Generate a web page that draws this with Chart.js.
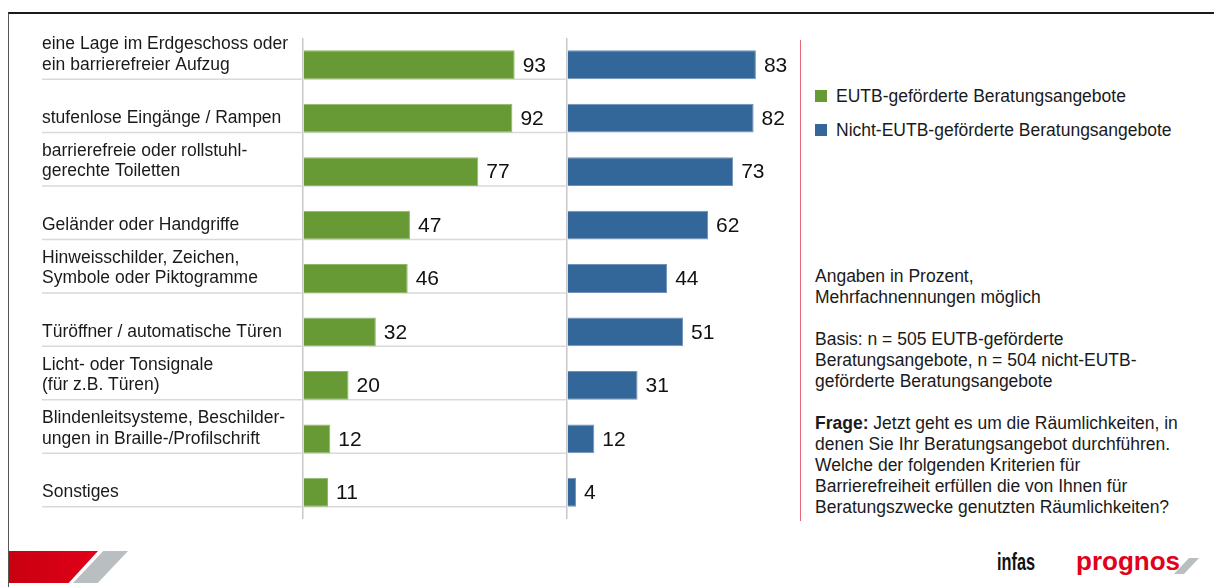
<!DOCTYPE html>
<html lang="de">
<head>
<meta charset="utf-8">
<title>Kriterien für Barrierefreiheit der Räumlichkeiten</title>
<script src="https://cdn.jsdelivr.net/npm/chart.js@4.4.1/dist/chart.umd.min.js"></script>
<style>
  html, body { margin: 0; padding: 0; background: #fff; }
  body { width: 1214px; height: 587px; position: relative; overflow: hidden;
         font-family: "Liberation Sans", Arial, sans-serif; color: #1a1a1a; }
  #frame { position: absolute; left: 8px; top: 12px; right: 0; bottom: 0;
           border-top: 2px solid #1a1a1a; border-left: 1px solid #555; }
  #wrap { position: absolute; left: 0; top: 0; width: 800px; height: 587px; }
  #divider { position: absolute; left: 800px; top: 40px; width: 1px; height: 481px; background: #e8677c; }
  #legend { position: absolute; left: 815px; top: 79px; font-size: 17.5px; }
  #legend .item { display: flex; align-items: center; height: 34px; }
  #legend .swatch { width: 12px; height: 12px; margin-right: 9px; }
  #notes { position: absolute; left: 815px; top: 266px; font-size: 17.5px; line-height: 21px; }
  #notes p { margin: 0 0 21px 0; }
  .logo-red { position: absolute; left: 9px; top: 551px; width: 89px; height: 32px;
              background: linear-gradient(90deg, #c8000f, #e2001a);
              clip-path: polygon(0 0, 100% 0, 67% 100%, 0 100%); }
  .logo-grey { position: absolute; left: 73px; top: 551px; width: 55px; height: 32px; background: #b9bec1;
               clip-path: polygon(55% 0, 100% 0, 45% 100%, 0 100%); }
  .infas { position: absolute; left: 997px; top: 548px; font: bold 24px "Liberation Sans", Arial, sans-serif;
           color: #111; transform: scaleX(0.68); transform-origin: left top; }
  .prognos { position: absolute; left: 1076px; top: 546px; font: bold 26px "Liberation Sans", Arial, sans-serif; color: #e2001a; }
  .prognos-mark { position: absolute; left: 1174px; top: 558px; width: 25px; height: 16px; background: #b9bec1;
                  clip-path: polygon(60% 0, 100% 0, 40% 100%, 0 100%); }
</style>
</head>
<body>
<div id="frame"></div>
<div id="wrap"><canvas id="chart"></canvas></div>
<div id="divider"></div>
<div id="legend"></div>
<div id="notes">
  <p>Angaben in Prozent,<br>Mehrfachnennungen möglich</p>
  <p>Basis: n = 505 EUTB-geförderte<br>Beratungsangebote, n = 504 nicht-EUTB-<br>geförderte Beratungsangebote</p>
  <p><b>Frage:</b> Jetzt geht es um die Räumlichkeiten, in<br>denen Sie Ihr Beratungsangebot durchführen.<br>Welche der folgenden Kriterien für<br>Barrierefreiheit erfüllen die von Ihnen für<br>Beratungszwecke genutzten Räumlichkeiten?</p>
</div>
<div class="logo-red"></div>
<div class="logo-grey"></div>
<div class="infas">infas</div>
<div class="prognos">prognos</div>
<div class="prognos-mark"></div>

<script>
// categories (two-line labels get a trailing blank line so the 2nd line sits on the bar)
const categories = [
  ['eine Lage im Erdgeschoss oder', 'ein barrierefreier Aufzug', ''],
  'stufenlose Eingänge / Rampen',
  ['barrierefreie oder rollstuhl-', 'gerechte Toiletten', ''],
  'Geländer oder Handgriffe',
  ['Hinweisschilder, Zeichen,', 'Symbole oder Piktogramme', ''],
  'Türöffner / automatische Türen',
  ['Licht- oder Tonsignale', '(für z.B. Türen)', ''],
  ['Blindenleitsysteme, Beschilder-', 'ungen in Braille-/Profilschrift', ''],
  'Sonstiges'
];
const seriesNames = ['EUTB-geförderte Beratungsangebote', 'Nicht-EUTB-geförderte Beratungsangebote'];
const eutbValues = [93, 92, 77, 47, 46, 32, 20, 12, 11];
const nonEutbValues = [83, 82, 73, 62, 44, 51, 31, 12, 4];

const green = '#679a34';
const blue = '#346799';
const fontFamily = '"Liberation Sans", Arial, sans-serif';

// legend on the right
const legendBox = document.getElementById('legend');
[green, blue].forEach((c, i) => {
  const item = document.createElement('div');
  item.className = 'item';
  item.innerHTML = '<span class="swatch" style="background:' + c + '"></span>' + seriesNames[i];
  legendBox.appendChild(item);
});

// light separator under each row + value labels next to the bars
const rowStuff = {
  id: 'rowStuff',
  beforeDatasetsDraw(chart) {
    const {ctx, scales} = chart;
    ctx.save();
    ctx.strokeStyle = '#d9d9d9';
    ctx.lineWidth = 1.5;
    chart.getDatasetMeta(0).data.forEach(bar => {
      const y = bar.y + bar.height / 2;
      ctx.beginPath();
      ctx.moveTo(scales.y.left, y);
      ctx.lineTo(scales.xR.left, y);
      ctx.stroke();
    });
    ctx.restore();
  },
  afterDatasetsDraw(chart) {
    const ctx = chart.ctx;
    ctx.save();
    ctx.fillStyle = '#111';
    ctx.font = '21px ' + fontFamily;
    ctx.textBaseline = 'middle';
    ctx.textAlign = 'left';
    chart.data.datasets.forEach((ds, i) => {
      chart.getDatasetMeta(i).data.forEach((bar, j) => {
        ctx.fillText(ds.data[j], bar.x + 8, bar.y + 1);
      });
    });
    ctx.restore();
  }
};

const zeroLine = ctx => ctx.tick && ctx.tick.value === 0 ? '#c8c8c8' : 'rgba(0,0,0,0)';

new Chart(document.getElementById('chart'), {
  type: 'bar',
  data: {
    labels: categories,
    datasets: [{
      label: seriesNames[0],
      data: eutbValues,
      xAxisID: 'xL',
      backgroundColor: green,
      borderColor: '#8fb768',
      borderWidth: 1,
      grouped: false,
      barPercentage: 0.54,
      categoryPercentage: 1
    }, {
      label: seriesNames[1],
      data: nonEutbValues,
      xAxisID: 'xR',
      backgroundColor: blue,
      borderColor: '#6f92bb',
      borderWidth: 1,
      grouped: false,
      barPercentage: 0.54,
      categoryPercentage: 1
    }]
  },
  options: {
    indexAxis: 'y',
    responsive: true,
    maintainAspectRatio: false,
    animation: false,
    layout: { padding: { left: 42, top: 38, bottom: 68, right: 2 } },
    plugins: {
      legend: { display: false },
      tooltip: { enabled: false }
    },
    scales: {
      y: {
        grid: { display: false },
        border: { display: false },
        ticks: {
          crossAlign: 'far',
          padding: 0,
          autoSkip: false,
          color: '#1a1a1a',
          font: { family: fontFamily, size: 17.5, lineHeight: 1.17 }
        },
        afterFit: s => { s.width = 261; }
      },
      xL: {
        type: 'linear', position: 'bottom', stack: 'panels', stackWeight: 264,
        min: 0, max: 116,
        ticks: { display: false },
        border: { display: false },
        grid: { drawTicks: false, color: zeroLine, lineWidth: 1.5 }
      },
      xR: {
        type: 'linear', position: 'bottom', stack: 'panels', stackWeight: 231,
        min: 0, max: 101.5,
        ticks: { display: false },
        border: { display: false },
        grid: { drawTicks: false, color: zeroLine, lineWidth: 1.5 }
      }
    }
  },
  plugins: [rowStuff]
});
</script>
</body>
</html>
